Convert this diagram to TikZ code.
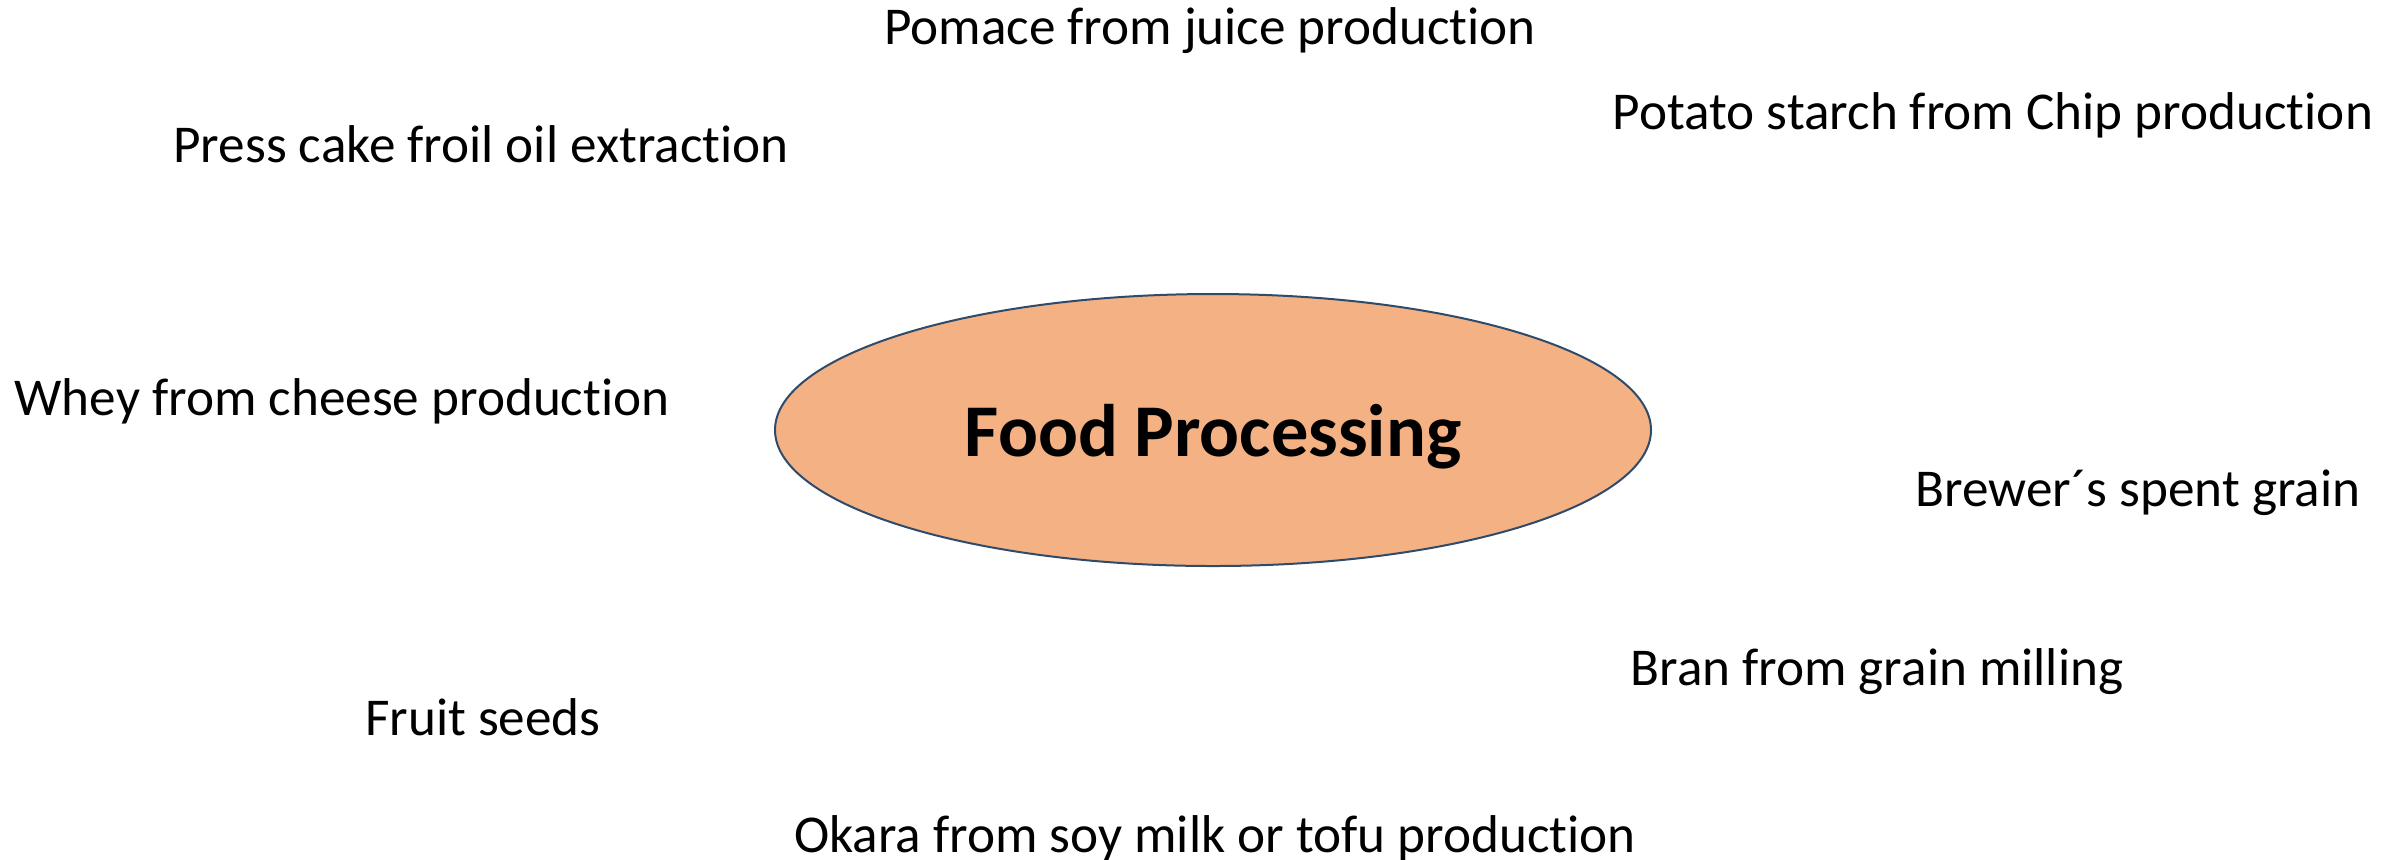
\documentclass[tikz,border=0pt]{standalone}
\usepackage{fontspec}
\setmainfont[Ligatures=NoCommon]{Carlito}
\usetikzlibrary{shapes.geometric}
\definecolor{fillorange}{HTML}{F4B183}
\definecolor{edgeblue}{HTML}{2F4B6B}
\tikzset{
  lbl/.style={font=\fontsize{26.6}{30}\selectfont, inner sep=0pt, anchor=center},
  hub/.style={ellipse, draw=edgeblue, fill=fillorange, line width=1pt, inner sep=0pt,
    minimum width=438pt, minimum height=136pt},
  hubtext/.style={font=\fontsize{37.2}{42}\selectfont\bfseries, inner sep=0pt}
}
\begin{document}
\begin{tikzpicture}[x=0.5pt,y=-0.5pt]
\useasboundingbox (0,0) rectangle (2402,859);
\node[hub] (fp) at (1213,430) {};
\node[hubtext] (fptext) at (1213,437) {Food Processing};
\node[lbl] (pomace) at (1210,31) {Pomace from juice production};
\node[lbl] (potato) at (1993,115) {Potato starch from Chip production};
\node[lbl] (press) at (481,144) {Press cake froil oil extraction};
\node[lbl] (whey) at (342,401) {Whey from cheese production};
\node[lbl] (brewer) at (2138,493) {Brewer´s spent grain};
\node[lbl] (bran) at (1877,672) {Bran from grain milling};
\node[lbl] (seeds) at (483,717) {Fruit seeds};
\node[lbl] (okara) at (1215,838) {Okara from soy milk or tofu production};
\end{tikzpicture}
\end{document}
